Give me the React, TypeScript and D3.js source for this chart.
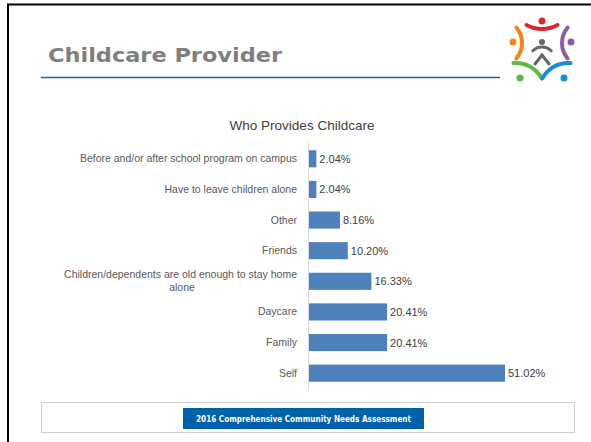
import React from "react";
import * as d3 from "d3";

const categories = [
  "Before and/or after school program on campus",
  "Have to leave children alone",
  "Other",
  "Friends",
  "Children/dependents are old enough to stay home alone",
  "Daycare",
  "Family",
  "Self",
];
const values = [2.04, 2.04, 8.16, 10.2, 16.33, 20.41, 20.41, 51.02];
const labelLines: Record<string, string[]> = {
  "Children/dependents are old enough to stay home alone": [
    "Children/dependents are old enough to stay home",
    "alone",
  ],
};
const pageTitle = "Childcare Provider";
const chartTitle = "Who Provides Childcare";
const footerText = "2016 Comprehensive Community Needs Assessment";

export default function App() {
  const W = 591;
  const H = 442;
  const x0 = 308.5;
  const x = d3.scaleLinear().domain([0, 51.02]).range([x0, 505]);
  const y = d3
    .scaleBand<string>()
    .domain(categories)
    .range([143.5, 388.5])
    .paddingInner(0.44)
    .paddingOuter(0.22);
  const lblFont = "'Liberation Sans', Arial, sans-serif";

  const arcPath = (cx: number, cy: number, r: number, a0: number, a1: number) => {
    const p = d3.path();
    p.arc(cx, cy, r, a0, a1, false);
    return p.toString();
  };
  const deg = (d: number) => (d * Math.PI) / 180;
  const cxL = 542;

  return (
    <svg
      width={W}
      height={H}
      style={{ position: "absolute", left: 0, top: 0, background: "#fff" }}
    >
      <rect x={0} y={0} width={W} height={H} fill="#fff" />
      {/* frame */}
      <line x1={7} x2={W} y1={4.5} y2={4.5} stroke="#000" strokeWidth={2} />
      <line x1={8} x2={8} y1={4} y2={H} stroke="#000" strokeWidth={2} />

      {/* header */}
      <text
        x={48}
        y={62}
        fontFamily="'DejaVu Sans', sans-serif"
        fontWeight="bold"
        fontSize={20}
        fill="#7f7f7f"
        textLength={234}
        lengthAdjust="spacingAndGlyphs"
      >
        {pageTitle}
      </text>
      <line x1={41} x2={500} y1={77.5} y2={77.5} stroke="#1a62ad" strokeWidth={1.4} />

      {/* logo */}
      <g strokeLinecap="round" fill="none" strokeWidth={4}>
        {/* red */}
        <circle cx={cxL} cy={21} r={3.5} fill="#d7282f" stroke="none" />
        <path d={arcPath(cxL, -3, 32, deg(61), deg(119))} stroke="#d7282f" />
        {/* orange */}
        <circle cx={513} cy={42} r={3.5} fill="#f58220" stroke="none" />
        <path d={arcPath(498, 43, 24, deg(-40), deg(40))} stroke="#f58220" />
        {/* purple */}
        <circle cx={571} cy={42} r={3.5} fill="#8e5ba6" stroke="none" />
        <path d={arcPath(586, 43, 24, deg(140), deg(220))} stroke="#8e5ba6" />
        {/* green */}
        <circle cx={520} cy={78} r={3.5} fill="#5bb947" stroke="none" />
        <path d={arcPath(516, 92, 29, deg(-95), deg(-28))} stroke="#5bb947" />
        {/* blue */}
        <circle cx={564} cy={78} r={3.5} fill="#1b8dd6" stroke="none" />
        <path d={arcPath(568, 92, 29, deg(-152), deg(-85))} stroke="#1b8dd6" />
        {/* center gray figure */}
        <circle cx={cxL} cy={42} r={3} fill="#666" stroke="none" />
        <path d={arcPath(cxL, 60, 13, deg(-135), deg(-45))} stroke="#666" strokeWidth={3} />
        <path
          d={`M${cxL - 7},64 L${cxL},55 L${cxL + 7},64`}
          stroke="#666"
          strokeWidth={3}
        />
      </g>

      {/* chart title */}
      <text
        x={302}
        y={130}
        textAnchor="middle"
        fontFamily={lblFont}
        fontSize={13.5}
        fill="#404040"
      >
        {chartTitle}
      </text>

      {/* bars */}
      {categories.map((c, i) => (
        <rect
          key={c}
          x={x(0)}
          y={y(c)!}
          width={x(values[i]) - x(0)}
          height={y.bandwidth()}
          fill="#4f81bd"
        />
      ))}
      {/* axis line */}
      <line x1={x0} x2={x0} y1={143} y2={389} stroke="#d9d9d9" strokeWidth={1} />

      {/* category labels */}
      {categories.map((c) => {
        const cy = y(c)! + y.bandwidth() / 2;
        const lines = labelLines[c];
        if (lines) {
          return (
            <g key={c} fontFamily={lblFont} fontSize={10.5} fill="#595959">
              <text x={297} y={cy - 3} textAnchor="end">
                {lines[0]}
              </text>
              <text x={182} y={cy + 10} textAnchor="middle">
                {lines[1]}
              </text>
            </g>
          );
        }
        return (
          <text
            key={c}
            x={297}
            y={cy + 3.5}
            textAnchor="end"
            fontFamily={lblFont}
            fontSize={10.5}
            fill="#595959"
          >
            {c}
          </text>
        );
      })}

      {/* value labels */}
      {categories.map((c, i) => (
        <text
          key={c}
          x={x(values[i]) + 3}
          y={y(c)! + y.bandwidth() / 2 + 4}
          fontFamily={lblFont}
          fontSize={11}
          fill="#404040"
        >
          {values[i].toFixed(2) + "%"}
        </text>
      ))}

      {/* footer */}
      <rect x={41.5} y={402.5} width={533} height={30} fill="none" stroke="#d0d0d0" strokeWidth={1} />
      <rect x={183} y={408} width={241} height={21} fill="#0060a8" />
      <text
        x={303.5}
        y={421.5}
        textAnchor="middle"
        fontFamily="'DejaVu Sans', sans-serif"
        fontWeight="bold"
        fontSize={8}
        fill="#fff"
        textLength={215}
        lengthAdjust="spacingAndGlyphs"
      >
        {footerText}
      </text>
    </svg>
  );
}
